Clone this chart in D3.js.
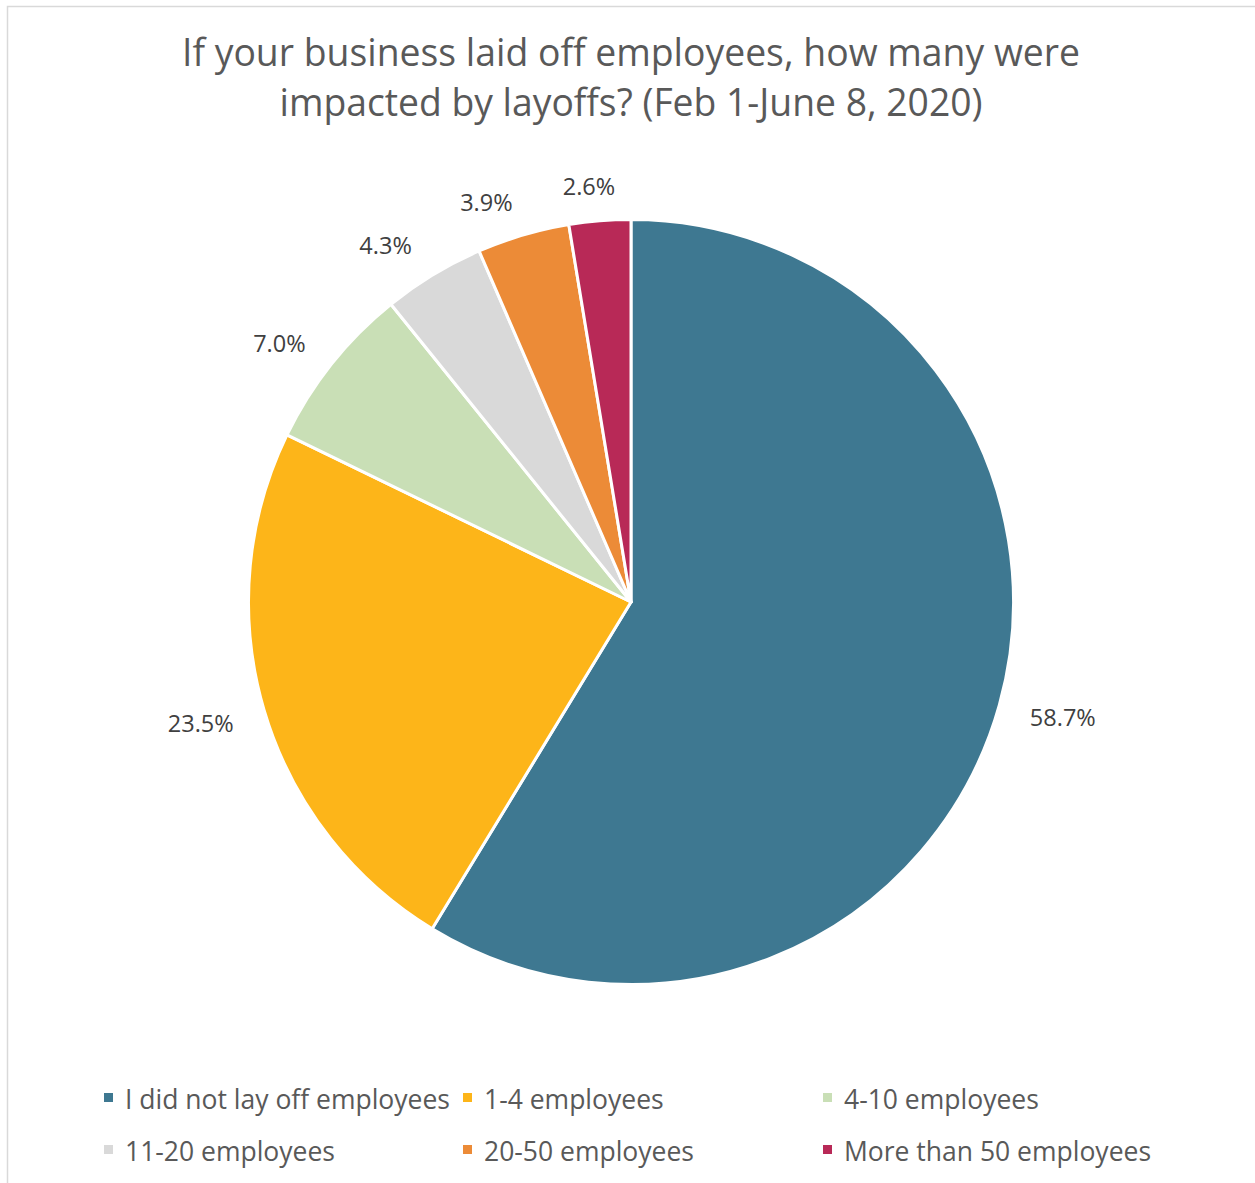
<!DOCTYPE html>
<html>
<head>
<meta charset="utf-8">
<script src="https://cdn.jsdelivr.net/npm/d3@7"></script>
<style>
  html, body { margin: 0; padding: 0; background: #fff; }
  svg { display: block; font-family: "Open Sans", sans-serif; }
</style>
</head>
<body>
<svg id="chart" width="1255" height="1183"></svg>
<script>
const categories = ["I did not lay off employees", "1-4 employees", "4-10 employees", "11-20 employees", "20-50 employees", "More than 50 employees"];
const values = [58.7, 23.5, 7.0, 4.3, 3.9, 2.6];
const colors = ["#3E7891", "#FDB519", "#C9DFB6", "#D9D9D9", "#EC8B37", "#B82957"];
const titleLines = ["If your business laid off employees, how many were", "impacted by layoffs? (Feb 1-June 8, 2020)"];

const svg = d3.select("#chart");
svg.append("rect").attr("x", 7.5).attr("y", 6.5).attr("width", 1400).attr("height", 1400)
  .attr("fill", "#fff").attr("stroke", "#D9D9D9").attr("stroke-width", 1.5);

// Title
const titleWidths = [898, 703];
svg.append("g").selectAll("text").data(titleLines).join("text")
  .attr("x", 631).attr("y", (d, i) => 66 + i * 50)
  .attr("text-anchor", "middle")
  .attr("font-size", 38).attr("fill", "#595959")
  .attr("textLength", (d, i) => titleWidths[i])
  .attr("lengthAdjust", "spacingAndGlyphs")
  .text(d => d);

// Pie
const cx = 631, cy = 602, r = 382.5;
const pie = d3.pie().sort(null).value(d => d)(values);
const arc = d3.arc().innerRadius(0).outerRadius(r);
const g = svg.append("g").attr("transform", `translate(${cx},${cy})`);
g.selectAll("path").data(pie).join("path")
  .attr("d", arc)
  .attr("fill", (d, i) => colors[i])
  .attr("stroke", "#fff").attr("stroke-width", 3).attr("stroke-linejoin", "round");

// Labels (outside end)
const fmt = d3.format(".1f");
const nudge = [0, 0, -6, -17, -20, -6];
const labels = g.selectAll("text.lbl").data(pie).join("text")
  .attr("class", "lbl")
  .attr("font-size", 23.5).attr("fill", "#404040")
  .attr("text-anchor", "middle")
  .attr("dy", "0.35em")
  .text(d => fmt(d.data) + "%");
labels.each(function(d, i) {
  const w = this.getComputedTextLength();
  const a = (d.startAngle + d.endAngle) / 2;
  const s = Math.sin(a), c = Math.cos(a);
  const R = r + 33;
  const x = R * s + (w / 2) * s + nudge[i];
  const y = -R * c + 3 - 4 * c;
  d3.select(this).attr("x", x).attr("y", y);
});

// Legend
const colX = [104, 463, 823];
const rowY = [1099, 1151];
const legend = svg.append("g").selectAll("g").data(categories).join("g")
  .attr("transform", (d, i) => `translate(${colX[i % 3]},${rowY[Math.floor(i / 3)]})`);
legend.append("rect").attr("x", 0).attr("y", -6).attr("width", 9).attr("height", 9)
  .attr("fill", (d, i) => colors[i]);
legend.append("text").attr("x", 21).attr("y", 0).attr("dy", "0.36em")
  .attr("font-size", 26.5).attr("fill", "#595959")
  .text(d => d);
</script>
</body>
</html>
